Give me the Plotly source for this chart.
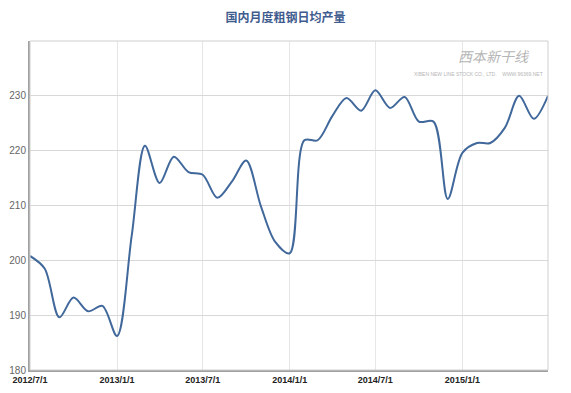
import plotly.graph_objects as go

months = [
    "2012-07-01", "2012-08-01", "2012-09-01", "2012-10-01", "2012-11-01", "2012-12-01",
    "2013-01-01", "2013-02-01", "2013-03-01", "2013-04-01", "2013-05-01", "2013-06-01",
    "2013-07-01", "2013-08-01", "2013-09-01", "2013-10-01", "2013-11-01", "2013-12-01",
    "2014-01-01", "2014-02-01", "2014-03-01", "2014-04-01", "2014-05-01", "2014-06-01",
    "2014-07-01", "2014-08-01", "2014-09-01", "2014-10-01", "2014-11-01", "2014-12-01",
    "2015-01-01", "2015-02-01", "2015-03-01", "2015-04-01", "2015-05-01", "2015-06-01",
    "2015-07-01",
]
output = [
    200.8, 198.5, 189.6, 193.2, 190.7, 191.7,
    186.2, 204.5, 220.9, 214.1, 218.9, 216.1,
    215.6, 211.4, 214.4, 218.2, 209.9, 203.4,
    201.3, 221.9, 221.9, 226.3, 229.6, 227.3,
    231.0, 227.8, 229.8, 225.3, 225.3, 211.2,
    219.6, 221.4, 221.4, 224.2, 230.0, 225.8,
    230.0,
]
tick_dates = ["2012-07-01", "2013-01-01", "2013-07-01", "2014-01-01", "2014-07-01", "2015-01-01"]
tick_labels = ["2012/7/1", "2013/1/1", "2013/7/1", "2014/1/1", "2014/7/1", "2015/1/1"]
y_ticks = [180, 190, 200, 210, 220, 230]

fig = go.Figure()
fig.add_trace(go.Scatter(
    x=months, y=output, mode="lines",
    line=dict(color="#41689B", width=2, shape="spline", smoothing=0.9),
    hoverinfo="x+y",
))

fig.update_layout(
    width=571, height=393,
    margin=dict(l=30, r=23, t=41, b=23, autoexpand=False),
    paper_bgcolor="white", plot_bgcolor="white",
    showlegend=False,
    title=dict(
        text="<b>国内月度粗钢日均产量</b>",
        x=0.5, xanchor="center", y=1 - 18 / 393, yanchor="middle",
        font=dict(family="Noto Sans CJK SC", size=12, color="#3F5C8E"),
    ),
    xaxis=dict(
        range=["2012-07-01", "2015-07-01"],
        tickvals=tick_dates, ticktext=["<b>%s</b>" % t for t in tick_labels],
        showgrid=True, gridcolor="#E6E6E6", gridwidth=1,
        showline=True, linecolor="#A0A0A0", linewidth=2, mirror=False,
        ticks="", tickfont=dict(family="Arial", size=9, color="#222222"),
        zeroline=False, automargin=False,
    ),
    yaxis=dict(
        range=[180, 240],
        tickvals=y_ticks,
        showgrid=True, gridcolor="#D8D8D8", gridwidth=1,
        showline=True, linecolor="#A0A0A0", linewidth=2,
        ticks="", tickfont=dict(family="Arial", size=10, color="#666666"),
        zeroline=False, automargin=False,
    ),
    shapes=[dict(type="rect", xref="paper", yref="paper", x0=0, y0=0, x1=1, y1=1,
                 line=dict(color="#CFCFCF", width=1), fillcolor="rgba(0,0,0,0)", layer="above")],
    annotations=[
        dict(text="<i>西本新干线</i>", xref="paper", yref="paper", x=0.97, y=0.955,
             xanchor="right", yanchor="middle", showarrow=False,
             font=dict(family="Noto Sans CJK SC", size=14, color="#B5B5B5")),
        dict(text="XIBEN NEW LINE STOCK CO., LTD.    WWW.96369.NET", xref="paper", yref="paper",
             x=0.995, y=0.899, xanchor="right", yanchor="middle", showarrow=False,
             font=dict(family="Arial", size=5, color="#B5B5B5")),
    ],
)

fig.write_html("out.html", config={"displayModeBar": False},
               post_script="document.body.style.margin='0';")
